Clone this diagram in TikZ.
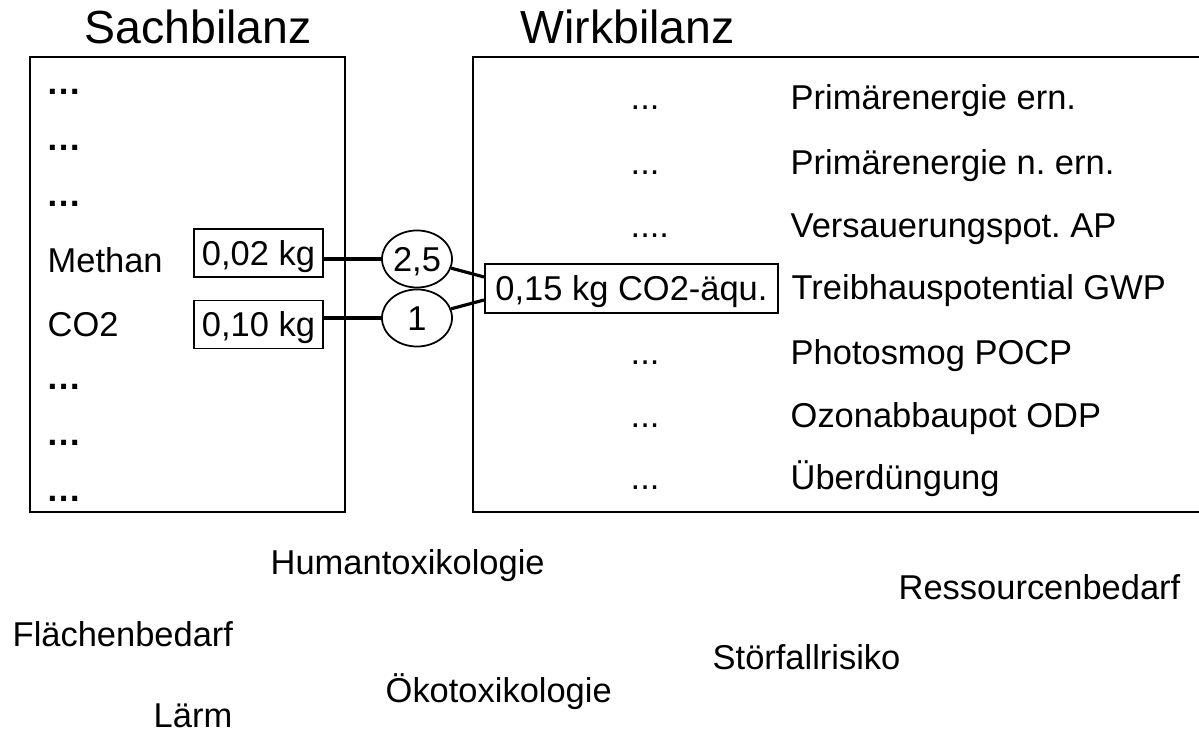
\documentclass[tikz,border=0pt]{standalone}
\usepackage{fontspec}
\setmainfont{Liberation Sans}
\usetikzlibrary{shapes.geometric,calc}
\frenchspacing

\tikzset{
  lbl/.style={anchor=base west, inner sep=0pt, font=\fontsize{9.8}{11}\selectfont},
  headline/.style={anchor=base west, inner sep=0pt, font=\fontsize{13.2}{15}\selectfont},
  dotsL/.style={anchor=base west, inner sep=0pt, font=\fontsize{10}{12}\selectfont\bfseries},
  frame/.style={draw, line width=0.5pt},
  valbox/.style={draw, line width=0.5pt, rectangle, inner sep=0pt,
    text height=0.25cm, text depth=0pt, font=\fontsize{9.8}{11}\selectfont},
  factor/.style={draw, line width=0.5pt, ellipse, inner sep=0pt,
    text height=0.25cm, text depth=0pt,
    minimum width=0.70cm, minimum height=0.57cm, font=\fontsize{9.8}{11}\selectfont},
  link/.style={line width=0.9pt}
}

\begin{document}
\begin{tikzpicture}[x=0.01cm, y=-0.01cm]
  \useasboundingbox (0,0) rectangle (1199,731);

  % headings
  \node[headline] (hsach) at (84,44) {Sachbilanz};
  \node[headline] (hwirk) at (520,44) {Wirkbilanz};

  % inventory frame (left) and impact frame (right, open towards the page edge)
  \draw[frame] (30,57) rectangle (345,512);
  \draw[frame] (1205,57) -- (473,57) -- (473,512) -- (1205,512);

  % inventory entries
  \node[dotsL] (s1) at (46,95) {…};
  \node[dotsL] (s2) at (46,151) {…};
  \node[dotsL] (s3) at (46,207) {…};
  \node[lbl] (meth) at (47,273) {Methan};
  \node[lbl] (co2) at (47,337) {CO2};
  \node[dotsL] (s6) at (46,390) {…};
  \node[dotsL] (s7) at (46,446) {…};
  \node[dotsL] (s8) at (46,502) {…};

  % amounts
  \node[valbox, minimum width=1.29cm, minimum height=0.48cm] (v1) at (258.5,253) {0,02 kg};
  \node[valbox, minimum width=1.29cm, minimum height=0.48cm] (v2) at (258.5,324.5) {0,10 kg};

  % characterisation factors
  \node[factor] (f1) at (417,259) {2,5};
  \node[factor] (f2) at (417,318) {1};

  % result
  \node[valbox, minimum width=2.93cm, minimum height=0.49cm] (res) at (631.5,288.5) {0,15 kg CO2-äqu.};

  \draw[link] (v1.east |- f1.center) -- (f1.west);
  \draw[link] (v2.east |- f2.center) -- (f2.west);
  \draw[link] (f1) -- ([yshift=0.115cm]res.west);
  \draw[link] (f2) -- ([yshift=-0.115cm]res.west);

  % impact categories
  \node[lbl] (d1) at (630,110) {...};
  \node[lbl] (d2) at (630,175) {...};
  \node[lbl] (d3) at (630,238) {....};
  \node[lbl] (d5) at (630,365) {...};
  \node[lbl] (d6) at (630,428) {...};
  \node[lbl] (d7) at (630,490) {...};

  \node[lbl] (c1) at (790,110) {Primärenergie ern.};
  \node[lbl] (c2) at (790,175) {Primärenergie n. ern.};
  \node[lbl] (c3) at (790,238) {Versauerungspot. AP};
  \node[lbl] (c4) at (791,300) {Treibhauspotential GWP};
  \node[lbl] (c5) at (790,365) {Photosmog POCP};
  \node[lbl] (c6) at (790,428) {Ozonabbaupot ODP};
  \node[lbl] (c7) at (790,490) {Überdüngung};

  % further categories
  \node[lbl] (human) at (270,575) {Humantoxikologie};
  \node[lbl] (ress) at (898,600) {Ressourcenbedarf};
  \node[lbl] (flaeche) at (12,647) {Flächenbedarf};
  \node[lbl] (stoer) at (712,670) {Störfallrisiko};
  \node[lbl] (oeko) at (385,703) {Ökotoxikologie};
  \node[lbl] (laerm) at (153,728) {Lärm};
\end{tikzpicture}
\end{document}
